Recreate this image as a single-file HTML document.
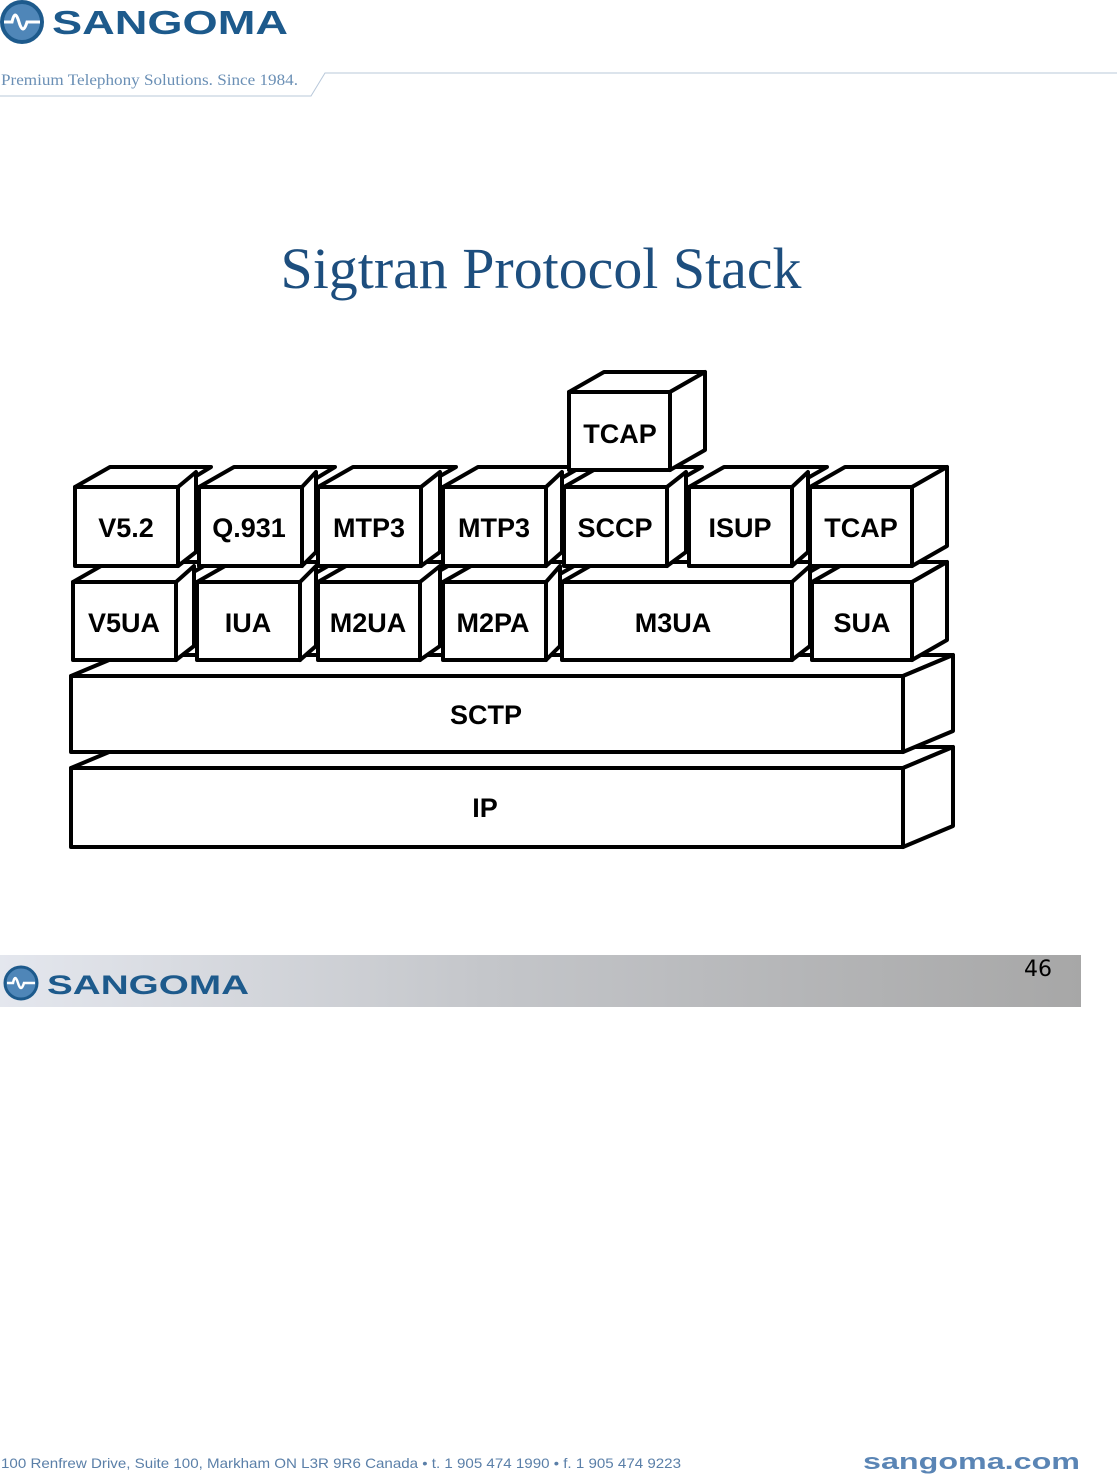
<!DOCTYPE html>
<html><head><meta charset="utf-8"><style>
html,body{margin:0;padding:0;background:#fff;}
body{width:1117px;height:1474px;position:relative;overflow:hidden;font-family:"Liberation Sans",sans-serif;}
</style></head><body>
<svg width="1117" height="1474" viewBox="0 0 1117 1474" xmlns="http://www.w3.org/2000/svg" style="position:absolute;left:0;top:0">
<defs>
<linearGradient id="bar" x1="0" x2="1" y1="0" y2="0">
<stop offset="0" stop-color="#e4e7ee"/><stop offset="0.45" stop-color="#c4c6ca"/><stop offset="1" stop-color="#a7a7a7"/>
</linearGradient>
</defs>
<circle cx="22" cy="22" r="20" fill="#4f86b8" stroke="#1d5a8c" stroke-width="4"/>
<path d="M4 22 H12 Q15 8 19 22 Q23 36 27 22 H40" fill="none" stroke="#fff" stroke-width="3"/>
<text x="52" y="34" font-family="Liberation Sans,sans-serif" font-weight="bold" font-size="33" fill="#1d5a8c" textLength="236" lengthAdjust="spacingAndGlyphs">SANGOMA</text>
<text x="1" y="85" font-family="Liberation Serif,serif" font-size="16" fill="#6a8fb5" textLength="297" lengthAdjust="spacingAndGlyphs">Premium Telephony Solutions. Since 1984.</text>
<polyline points="0,96 311,96 325,73 1117,73" fill="none" stroke="#b8c8da" stroke-width="1"/>
<text x="541" y="288" text-anchor="middle" font-family="Liberation Serif,serif" font-size="58" fill="#1d4e7e" textLength="521" lengthAdjust="spacingAndGlyphs">Sigtran Protocol Stack</text>
<g fill="#fff" stroke="#000" stroke-width="4" stroke-linejoin="round">
<!-- IP -->
<polygon points="71,768 121,747 953,747 903,768"/><polygon points="903,768 953,747 953,826 903,847"/><rect x="71" y="768" width="832" height="79"/>
<!-- SCTP -->
<polygon points="71,676 121,655 953,655 903,676"/><polygon points="903,676 953,655 953,731 903,752"/><rect x="71" y="676" width="832" height="76"/>
<!-- Row2 -->
<polygon points="73,582 108,562 211,562 176,582"/><polygon points="176,582 194,566 194,646 176,660"/><rect x="73" y="582" width="103" height="78"/>
<polygon points="197,582 232,562 335,562 300,582"/><polygon points="300,582 316,566 316,646 300,660"/><rect x="197" y="582" width="103" height="78"/>
<polygon points="318,582 353,562 455,562 420,582"/><polygon points="420,582 440,566 440,646 420,660"/><rect x="318" y="582" width="102" height="78"/>
<polygon points="443,582 478,562 581,562 546,582"/><polygon points="546,582 560,566 560,646 546,660"/><rect x="443" y="582" width="103" height="78"/>
<polygon points="562,582 597,562 827,562 792,582"/><polygon points="792,582 810,566 810,646 792,660"/><rect x="562" y="582" width="230" height="78"/>
<polygon points="812,582 847,562 947,562 912,582"/><polygon points="912,582 947,562 947,640 912,660"/><rect x="812" y="582" width="100" height="78"/>
<!-- Row1 -->
<polygon points="75,487 110,467 211,467 178,487"/><polygon points="178,487 196,472 196,552 178,566"/><rect x="75" y="487" width="103" height="79"/>
<polygon points="199,487 234,467 335,467 302,487"/><polygon points="302,487 316,472 316,552 302,566"/><rect x="199" y="487" width="103" height="79"/>
<polygon points="318,487 353,467 456,467 421,487"/><polygon points="421,487 440,472 440,552 421,566"/><rect x="318" y="487" width="103" height="79"/>
<polygon points="443,487 478,467 581,467 546,487"/><polygon points="546,487 562,472 562,552 546,566"/><rect x="443" y="487" width="103" height="79"/>
<polygon points="564,487 599,467 702,467 667,487"/><polygon points="667,487 686,472 686,552 667,566"/><rect x="564" y="487" width="103" height="79"/>
<polygon points="689,487 724,467 827,467 792,487"/><polygon points="792,487 808,472 808,552 792,566"/><rect x="689" y="487" width="103" height="79"/>
<polygon points="810,487 845,467 947,467 912,487"/><polygon points="912,487 947,467 947,546 912,566"/><rect x="810" y="487" width="102" height="79"/>
<!-- TCAP top -->
<polygon points="569,392 604,372 705,372 670,392"/><polygon points="670,392 705,372 705,450 670,470"/><rect x="569" y="392" width="101" height="78"/>
</g>
<g font-family="Liberation Sans,sans-serif" font-weight="bold" font-size="27" text-anchor="middle" fill="#000">
<text x="620" y="443">TCAP</text>
<text x="126" y="537">V5.2</text><text x="249" y="537">Q.931</text><text x="369" y="537">MTP3</text><text x="494" y="537">MTP3</text><text x="615" y="537">SCCP</text><text x="740" y="537">ISUP</text><text x="861" y="537">TCAP</text>
<text x="124" y="632">V5UA</text><text x="248" y="632">IUA</text><text x="368" y="632">M2UA</text><text x="493" y="632">M2PA</text><text x="673" y="632">M3UA</text><text x="862" y="632">SUA</text>
<text x="486" y="724">SCTP</text><text x="485" y="817">IP</text>
</g>
<rect x="0" y="955" width="1081" height="52" fill="url(#bar)"/>
<circle cx="21" cy="983" r="16" fill="#4f86b8" stroke="#1d5a8c" stroke-width="3"/>
<path d="M7 983 H13 Q15 973 18 983 Q21 993 24 983 H35" fill="none" stroke="#fff" stroke-width="2.5"/>
<text x="47" y="994" font-family="Liberation Sans,sans-serif" font-weight="bold" font-size="27" fill="#1d5a8c" textLength="202" lengthAdjust="spacingAndGlyphs">SANGOMA</text>
<text x="1038" y="976" text-anchor="middle" font-family="DejaVu Sans,sans-serif" font-size="22" fill="#000">46</text>
<text x="1" y="1468" font-family="Liberation Sans,sans-serif" font-size="14" fill="#5a7fa8" textLength="680" lengthAdjust="spacingAndGlyphs">100 Renfrew Drive, Suite 100, Markham ON L3R 9R6 Canada  •  t. 1 905 474 1990  •  f. 1 905 474 9223</text>
<text x="863" y="1469" font-family="Liberation Sans,sans-serif" font-weight="bold" font-size="22" fill="#5a85b5" textLength="217" lengthAdjust="spacingAndGlyphs">sangoma.com</text>
</svg>
</body></html>
